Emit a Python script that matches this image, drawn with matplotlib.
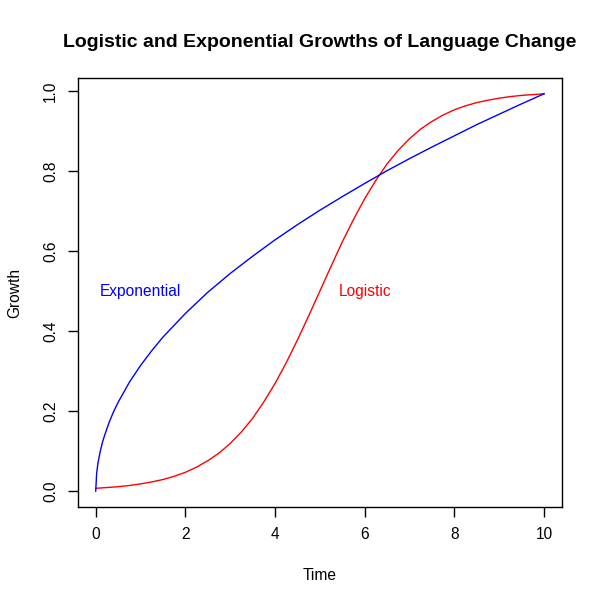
import matplotlib
matplotlib.use('Agg')
import matplotlib.pyplot as plt

plt.rcParams['font.family'] = ['Liberation Sans', 'DejaVu Sans']

# logistic curve
t_log = [0, 0.25, 0.5, 0.75, 1, 1.25, 1.5, 1.75, 2, 2.25, 2.5, 2.75, 3, 3.25, 3.5, 3.75,
         4, 4.25, 4.5, 4.75, 5, 5.25, 5.5, 5.75, 6, 6.25, 6.5, 6.75, 7, 7.25, 7.5, 7.75,
         8, 8.25, 8.5, 8.75, 9, 9.25, 9.5, 9.75, 10]
logistic = [0.007, 0.009, 0.011, 0.014, 0.018, 0.023, 0.029, 0.037, 0.047, 0.060, 0.076, 0.095,
            0.119, 0.148, 0.182, 0.223, 0.269, 0.321, 0.378, 0.438, 0.500, 0.562, 0.623, 0.679,
            0.731, 0.777, 0.818, 0.852, 0.881, 0.905, 0.924, 0.940, 0.953, 0.963, 0.971, 0.977,
            0.982, 0.986, 0.989, 0.991, 0.993]

# exponential curve
t_exp = [0, 0.02, 0.05, 0.1, 0.15, 0.2, 0.3, 0.4, 0.5, 0.75, 1, 1.25, 1.5, 2, 2.5, 3, 3.5,
         4, 4.5, 5, 5.5, 6, 6.5, 7, 7.5, 8, 8.5, 9, 9.5, 10]
exponential = [0.0, 0.044, 0.070, 0.099, 0.122, 0.140, 0.172, 0.199, 0.222, 0.272, 0.314,
               0.351, 0.385, 0.444, 0.497, 0.544, 0.587, 0.628, 0.666, 0.702, 0.736, 0.769,
               0.801, 0.831, 0.860, 0.888, 0.916, 0.942, 0.968, 0.993]

fig = plt.figure(figsize=(6.03, 6.03), dpi=100)
ax = fig.add_axes([0.129, 0.159, 0.803, 0.712])

ax.plot(t_log, logistic, color='red', linewidth=1)
ax.plot(t_exp, exponential, color='blue', linewidth=1)

ax.text(1, 0.5, 'Exponential', color='blue', fontsize=11.2, ha='center', va='center')
ax.text(6, 0.5, 'Logistic', color='red', fontsize=11.2, ha='center', va='center')

ax.set_xlim(-0.4, 10.4)
ax.set_ylim(-0.04, 1.033)
ax.set_xticks([0, 2, 4, 6, 8, 10])
ax.set_yticks([0.0, 0.2, 0.4, 0.6, 0.8, 1.0])
ax.set_yticklabels(['0.0', '0.2', '0.4', '0.6', '0.8', '1.0'], rotation=90, va='center')
ax.tick_params(labelsize=11.2, length=7, width=1, pad=7)
for s in ax.spines.values():
    s.set_linewidth(1)

ax.set_xlabel('Time', fontsize=11.2, labelpad=19)
ax.set_ylabel('Growth', fontsize=11.2, labelpad=15)
ax.set_title('Logistic and Exponential Growths of Language Change',
             fontsize=14, fontweight='bold', pad=22)

plt.savefig('out.png', dpi=100)
